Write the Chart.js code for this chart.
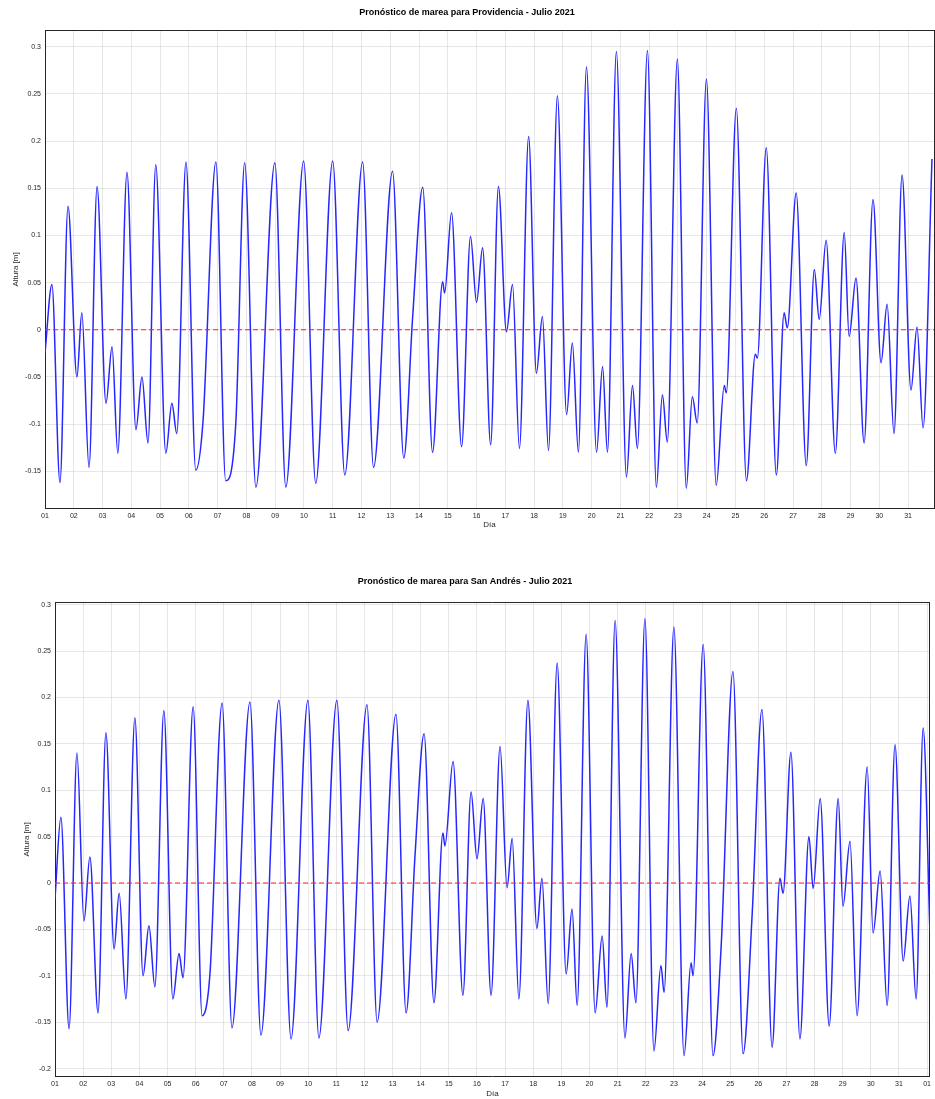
<!DOCTYPE html>
<html>
<head>
<meta charset="utf-8">
<script src="https://cdn.jsdelivr.net/npm/chart.js@4.4.0/dist/chart.umd.min.js"></script>
<style>
  html, body { margin: 0; padding: 0; background: #fff; }
  #wrap { position: relative; width: 935px; height: 1099px; }
  canvas { position: absolute; left: 0; }
  #provChart { top: 0; }
  #sanChart { top: 545px; }
</style>
</head>
<body>
<div id="wrap">
  <canvas id="provChart" width="935" height="545"></canvas>
  <canvas id="sanChart" width="935" height="554"></canvas>
</div>
<script>
// day of July (decimal), tide height in metres at each turning point
const provDays = [1.00, 1.24, 1.52, 1.80, 2.11, 2.28, 2.53, 2.81, 3.12, 3.33, 3.53, 3.85, 4.16, 4.37, 4.58, 4.85,
  5.20, 5.41, 5.58, 5.90, 6.24, 6.49, 6.94, 7.28, 7.63, 7.94, 8.33, 8.99, 9.37, 9.99, 10.41, 11.00,
  11.42, 12.04, 12.42, 13.08, 13.47, 13.78, 14.13, 14.47, 14.82, 14.89, 15.13, 15.48, 15.79, 16.00,
  16.21, 16.49, 16.76, 17.04, 17.25, 17.49, 17.81, 18.08, 18.29, 18.50, 18.81, 19.13, 19.33, 19.54,
  19.82, 20.17, 20.38, 20.55, 20.86, 21.21, 21.42, 21.59, 21.94, 22.25, 22.46, 22.63, 22.98, 23.29,
  23.50, 23.67, 23.99, 24.33, 24.61, 24.68, 25.03, 25.38, 25.69, 25.76, 26.07, 26.42, 26.69, 26.80,
  27.11, 27.46, 27.74, 27.91, 28.15, 28.47, 28.78, 28.95, 29.19, 29.47, 29.78, 30.06, 30.27, 30.51,
  30.79, 31.10, 31.31, 31.52, 31.83];
const provLevel = [-0.025, 0.048, -0.162, 0.131, -0.050, 0.018, -0.146, 0.152, -0.078, -0.018, -0.131, 0.167, -0.106, -0.050, -0.120, 0.175,
  -0.131, -0.078, -0.110, 0.178, -0.149, -0.098, 0.178, -0.160, -0.100, 0.177, -0.167, 0.177, -0.167, 0.179, -0.163, 0.179,
  -0.154, 0.178, -0.146, 0.168, -0.136, 0.014, 0.151, -0.130, 0.051, 0.039, 0.124, -0.124, 0.099, 0.029,
  0.087, -0.122, 0.152, -0.002, 0.048, -0.126, 0.205, -0.046, 0.014, -0.128, 0.248, -0.090, -0.014, -0.130,
  0.279, -0.130, -0.039, -0.130, 0.295, -0.156, -0.059, -0.126, 0.296, -0.167, -0.069, -0.119, 0.287, -0.168,
  -0.071, -0.099, 0.266, -0.165, -0.059, -0.067, 0.235, -0.160, -0.026, -0.030, 0.193, -0.154, 0.018, 0.002,
  0.145, -0.144, 0.064, 0.011, 0.095, -0.131, 0.103, -0.007, 0.055, -0.120, 0.138, -0.035, 0.027, -0.110,
  0.164, -0.064, 0.003, -0.104, 0.181];

const sanDays = [1.00, 1.21, 1.50, 1.78, 2.03, 2.24, 2.53, 2.81, 3.10, 3.28, 3.52, 3.84, 4.13, 4.34, 4.55, 4.87,
  5.19, 5.41, 5.55, 5.91, 6.23, 6.51, 6.94, 7.29, 7.93, 8.32, 8.96, 9.39, 9.99, 10.38, 11.02, 11.42,
  12.09, 12.45, 13.12, 13.48, 13.80, 14.12, 14.47, 14.79, 14.86, 15.15, 15.50, 15.79, 16.00, 16.22,
  16.50, 16.82, 17.07, 17.25, 17.49, 17.81, 18.13, 18.31, 18.53, 18.85, 19.17, 19.38, 19.56, 19.88,
  20.20, 20.45, 20.62, 20.91, 21.26, 21.48, 21.65, 21.97, 22.29, 22.54, 22.65, 23.00, 23.36, 23.61,
  23.68, 24.04, 24.39, 24.68, 25.10, 25.46, 25.78, 26.13, 26.49, 26.77, 26.88, 27.16, 27.48, 27.80,
  27.95, 28.20, 28.52, 28.84, 29.01, 29.26, 29.51, 29.87, 30.08, 30.33, 30.58, 30.86, 31.15, 31.39,
  31.61, 31.86, 32.10];
const sanLevel = [-0.017, 0.071, -0.157, 0.140, -0.041, 0.028, -0.140, 0.162, -0.071, -0.011, -0.125, 0.178, -0.100, -0.046, -0.112, 0.186,
  -0.125, -0.076, -0.102, 0.190, -0.143, -0.097, 0.194, -0.156, 0.195, -0.164, 0.197, -0.168, 0.197, -0.167, 0.197, -0.159,
  0.192, -0.150, 0.182, -0.140, 0.031, 0.161, -0.129, 0.054, 0.040, 0.131, -0.121, 0.098, 0.026, 0.091,
  -0.121, 0.147, -0.005, 0.048, -0.125, 0.197, -0.049, 0.005, -0.130, 0.237, -0.098, -0.028, -0.132, 0.268,
  -0.140, -0.057, -0.134, 0.283, -0.167, -0.076, -0.129, 0.285, -0.181, -0.089, -0.118, 0.276, -0.186, -0.086,
  -0.100, 0.257, -0.186, -0.068, 0.228, -0.184, -0.035, 0.187, -0.177, 0.005, -0.011, 0.141, -0.168, 0.050,
  -0.006, 0.091, -0.154, 0.091, -0.025, 0.045, -0.143, 0.125, -0.054, 0.013, -0.132, 0.149, -0.084, -0.014,
  -0.125, 0.167, -0.052];

const dayTicks = [1, 2, 3, 4, 5, 6, 7, 8, 9, 10, 11, 12, 13, 14, 15, 16, 17, 18, 19, 20, 21, 22, 23, 24, 25, 26, 27, 28, 29, 30, 31, 32];
const provHeightTicks = [-0.15, -0.1, -0.05, 0, 0.05, 0.1, 0.15, 0.2, 0.25, 0.3];
const sanHeightTicks = [-0.2, -0.15, -0.1, -0.05, 0, 0.05, 0.1, 0.15, 0.2, 0.25, 0.3];

const FONT = "'Liberation Sans', Arial, sans-serif";
const GRID = "rgba(38,38,38,0.11)";
const AXIS = "#262626";

function dayLabel(v) {
  return v > 31 ? "01" : String(v).padStart(2, "0");
}

function heightLabel(v) {
  return String(parseFloat(Number(v).toFixed(2)));
}

function tideChart(id, title, days, level, heightTicks, o) {
  const points = days.map((d, i) => ({ x: d, y: level[i] }));
  const box = (pos) => ({
    type: "linear",
    position: pos,
    min: pos === "top" ? o.xMin : o.yMin,
    max: pos === "top" ? o.xMax : o.yMax,
    ticks: { display: false },
    grid: { drawOnChartArea: false, drawTicks: false },
    border: { color: AXIS },
    afterFit: s => { if (pos === "top") s.height = 0; else s.width = 0; }
  });

  return new Chart(document.getElementById(id), {
    type: "line",
    data: {
      datasets: [
        {
          data: [{ x: o.xMin, y: 0 }, { x: o.xMax, y: 0 }],
          borderColor: "#ff2222",
          borderWidth: 1.2,
          borderDash: [5, 3],
          pointRadius: 0
        },
        {
          data: points,
          borderColor: "#2626ff",
          borderWidth: 1.5,
          pointRadius: 0,
          cubicInterpolationMode: "monotone"
        }
      ]
    },
    options: {
      responsive: false,
      animation: false,
      layout: { padding: { left: 0, right: o.padRight, top: 0, bottom: o.padBottom } },
      plugins: {
        legend: { display: false },
        tooltip: { enabled: false },
        title: {
          display: true,
          text: title,
          color: "#000",
          font: { family: FONT, size: 9, weight: "bold" },
          padding: { top: o.titleTop, bottom: o.titleBottom }
        }
      },
      scales: {
        x: {
          type: "linear",
          min: o.xMin,
          max: o.xMax,
          afterBuildTicks: s => { s.ticks = dayTicks.filter(v => v >= s.min && v <= s.max).map(v => ({ value: v })); },
          afterFit: s => { s.height = o.xAxisH; },
          ticks: { callback: dayLabel, autoSkip: false, maxRotation: 0, padding: 4, color: AXIS, font: { family: FONT, size: 7 } },
          grid: { color: GRID, drawTicks: false },
          border: { color: AXIS },
          title: { display: true, text: "Día", color: AXIS, font: { family: FONT, size: 8 }, padding: { top: 0, bottom: o.xTitlePad } }
        },
        y: {
          min: o.yMin,
          max: o.yMax,
          afterBuildTicks: s => { s.ticks = heightTicks.map(v => ({ value: v })); },
          afterFit: s => { s.width = o.yAxisW; },
          ticks: { callback: heightLabel, padding: 4, color: AXIS, font: { family: FONT, size: 7 } },
          grid: { color: GRID, drawTicks: false },
          border: { color: AXIS },
          title: { display: true, text: "Altura [m]", color: AXIS, font: { family: FONT, size: 8 }, padding: { top: o.yTitlePad, bottom: 0 } }
        },
        x2: box("top"),
        y2: box("right")
      }
    }
  });
}

tideChart("provChart", "Pronóstico de marea para Providencia - Julio 2021", provDays, provLevel, provHeightTicks, {
  xMin: 1, xMax: 31.9, yMin: -0.189, yMax: 0.317,
  yAxisW: 45, xAxisH: 24, padRight: 1, padBottom: 13,
  titleTop: 7, titleBottom: 13, xTitlePad: 2, yTitlePad: 11
});

tideChart("sanChart", "Pronóstico de marea para San Andrés - Julio 2021", sanDays, sanLevel, sanHeightTicks, {
  xMin: 1, xMax: 32.1, yMin: -0.208, yMax: 0.302,
  yAxisW: 55, xAxisH: 23, padRight: 5, padBottom: 0,
  titleTop: 31, titleBottom: 16, xTitlePad: 0, yTitlePad: 22
});
</script>
</body>
</html>
